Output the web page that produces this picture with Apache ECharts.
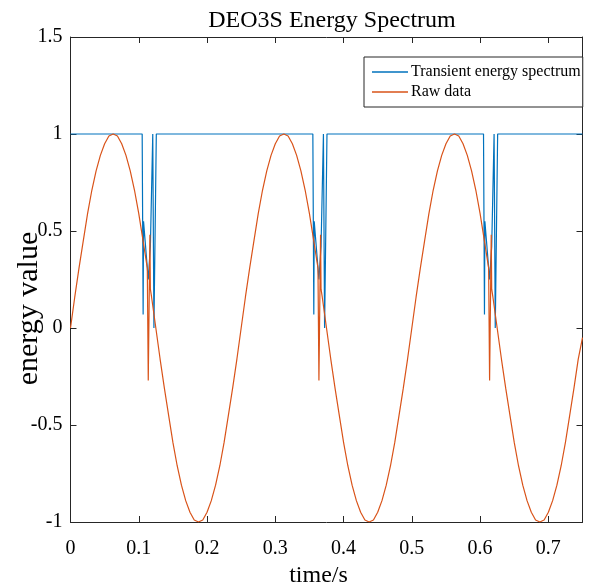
<!DOCTYPE html>
<html>
<head>
<meta charset="utf-8">
<script src="https://cdn.jsdelivr.net/npm/echarts@6/dist/echarts.min.js"></script>
<style>html,body{margin:0;padding:0;background:#fff;}#c{width:594px;height:588px;}</style>
</head>
<body>
<div id="c"></div>
<script>
const titleText = 'DEO3S Energy Spectrum';
const xName = 'time/s';
const yName = 'energy value';
const seriesNames = ['Transient energy spectrum', 'Raw data'];
const xTicks = [0, 0.1, 0.2, 0.3, 0.4, 0.5, 0.6, 0.7];
const yTicks = [-1, -0.5, 0, 0.5, 1, 1.5];

// Transient energy spectrum (blue)
const specTime = [0, 0.1050, 0.1064, 0.1070, 0.1139, 0.1170, 0.1205, 0.1222, 0.1257,
  0.3550, 0.3564, 0.3570, 0.3639, 0.3670, 0.3705, 0.3722, 0.3757,
  0.6050, 0.6064, 0.6070, 0.6139, 0.6170, 0.6205, 0.6222, 0.6257, 0.75];
const specValue = [1, 1, 0.07, 0.55, 0.25, 0.42, 1, 0.00, 1,
  1, 0.07, 0.55, 0.25, 0.42, 1, 0.00, 1,
  1, 0.07, 0.55, 0.25, 0.42, 1, 0.00, 1, 1];

// Raw data (orange)
const rawTime = [
  0, 0.00625, 0.0125, 0.01875, 0.025, 0.03125, 0.0375, 0.04375, 0.05, 0.05625,
  0.0625, 0.06875, 0.075, 0.08125, 0.0875, 0.09375, 0.1, 0.10625, 0.1125,
  0.1139, 0.1163, 0.1170,
  0.11875, 0.125, 0.13125, 0.1375, 0.14375, 0.15, 0.15625, 0.1625, 0.16875,
  0.175, 0.18125, 0.1875, 0.19375, 0.2, 0.20625, 0.2125, 0.21875, 0.225, 0.23125,
  0.2375, 0.24375,
  0.25, 0.25625, 0.2625, 0.26875, 0.275, 0.28125, 0.2875, 0.29375, 0.3, 0.30625,
  0.3125, 0.31875, 0.325, 0.33125, 0.3375, 0.34375, 0.35, 0.35625, 0.3625,
  0.3639, 0.3663, 0.3670,
  0.36875, 0.375, 0.38125, 0.3875, 0.39375, 0.4, 0.40625, 0.4125, 0.41875,
  0.425, 0.43125, 0.4375, 0.44375, 0.45, 0.45625, 0.4625, 0.46875, 0.475, 0.48125,
  0.4875, 0.49375,
  0.5, 0.50625, 0.5125, 0.51875, 0.525, 0.53125, 0.5375, 0.54375, 0.55, 0.55625,
  0.5625, 0.56875, 0.575, 0.58125, 0.5875, 0.59375, 0.6, 0.60625, 0.6125,
  0.6139, 0.6163, 0.6170,
  0.61875, 0.625, 0.63125, 0.6375, 0.64375, 0.65, 0.65625, 0.6625, 0.66875,
  0.675, 0.68125, 0.6875, 0.69375, 0.7, 0.70625, 0.7125, 0.71875, 0.725, 0.73125,
  0.7375, 0.74375, 0.75];
const rawValue = [
  0, 0.16, 0.31, 0.45, 0.59, 0.71, 0.81, 0.89, 0.95, 0.99,
  1, 0.99, 0.95, 0.89, 0.81, 0.71, 0.59, 0.45, 0.31,
  -0.27, 0.48, 0.20,
  0.16, 0, -0.16, -0.31, -0.45, -0.59, -0.71, -0.81, -0.89,
  -0.95, -0.99, -1, -0.99, -0.95, -0.89, -0.81, -0.71, -0.59, -0.45,
  -0.31, -0.16,
  0, 0.16, 0.31, 0.45, 0.59, 0.71, 0.81, 0.89, 0.95, 0.99,
  1, 0.99, 0.95, 0.89, 0.81, 0.71, 0.59, 0.45, 0.31,
  -0.27, 0.48, 0.20,
  0.16, 0, -0.16, -0.31, -0.45, -0.59, -0.71, -0.81, -0.89,
  -0.95, -0.99, -1, -0.99, -0.95, -0.89, -0.81, -0.71, -0.59, -0.45,
  -0.31, -0.16,
  0, 0.16, 0.31, 0.45, 0.59, 0.71, 0.81, 0.89, 0.95, 0.99,
  1, 0.99, 0.95, 0.89, 0.81, 0.71, 0.59, 0.45, 0.31,
  -0.27, 0.48, 0.20,
  0.16, 0, -0.16, -0.31, -0.45, -0.59, -0.71, -0.81, -0.89,
  -0.95, -0.99, -1, -0.99, -0.95, -0.89, -0.81, -0.71, -0.59, -0.45,
  -0.31, -0.16, -0.05];

const FONT = "'Liberation Serif', 'Times New Roman', serif";
const AX = '#262626';

const chart = echarts.init(document.getElementById('c'), null, {renderer: 'canvas'});
const xMin = xTicks[0], xMax = 0.75, xInt = xTicks[1] - xTicks[0];
const yMin = yTicks[0], yMax = yTicks[yTicks.length - 1], yInt = yTicks[1] - yTicks[0];

function xAxisCfg(pos, labels) {
  return {
    type: 'value', position: pos, min: xMin, max: xMax, interval: xInt,
    axisLine: {show: true, onZero: false, lineStyle: {color: AX, width: 1}},
    axisTick: {show: true, inside: true, length: 6, lineStyle: {color: AX}},
    axisLabel: {show: labels, showMaxLabel: false, margin: 17, color: '#000', fontFamily: FONT, fontSize: 20},
    splitLine: {show: false},
    name: labels ? xName : '', nameLocation: 'middle', nameGap: 42, nameMoveOverlap: false,
    nameTextStyle: {color: '#000', fontFamily: FONT, fontSize: 24, padding: [0, 16, 0, 0]}
  };
}
function yAxisCfg(pos, labels) {
  return {
    type: 'value', position: pos, min: yMin, max: yMax, interval: yInt,
    axisLine: {show: true, onZero: false, lineStyle: {color: AX, width: 1}},
    axisTick: {show: true, inside: true, length: 6, lineStyle: {color: AX}},
    axisLabel: {show: labels, margin: 8, color: '#000', fontFamily: FONT, fontSize: 20},
    splitLine: {show: false},
    name: labels ? yName : '', nameLocation: 'middle', nameGap: 26, nameMoveOverlap: false,
    nameTextStyle: {color: '#000', fontFamily: FONT, fontSize: 30, padding: [0, 58, 0, 0]}
  };
}

chart.setOption({
  animation: false,
  backgroundColor: '#fff',
  title: {
    text: titleText, left: 327, top: 4, textAlign: 'center',
    textStyle: {fontFamily: FONT, fontSize: 24, fontWeight: 'normal', color: '#000'}
  },
  legend: {
    orient: 'vertical', left: 364, top: 57,
    data: seriesNames,
    icon: 'rect',
    backgroundColor: '#fff', borderColor: AX, borderWidth: 1,
    padding: [7, 2, 7, 8], itemGap: 4, itemWidth: 36, itemHeight: 1.3,
    textStyle: {fontFamily: FONT, fontSize: 16, color: '#000', lineHeight: 16, padding: [0, 0, 0, -2]}
  },
  grid: {left: 70.5, right: 11.5, top: 37, bottom: 66, containLabel: false, outerBoundsMode: 'none'},
  xAxis: [xAxisCfg('bottom', true), xAxisCfg('top', false)],
  yAxis: [yAxisCfg('left', true), yAxisCfg('right', false)],
  series: [
    {
      name: seriesNames[0], type: 'line', xAxisIndex: 0, yAxisIndex: 0,
      data: specTime.map((t, i) => [t, specValue[i]]),
      showSymbol: false, symbol: 'none', clip: true,
      lineStyle: {color: '#0072BD', width: 1.2}, itemStyle: {color: '#0072BD'}
    },
    {
      name: seriesNames[1], type: 'line', xAxisIndex: 0, yAxisIndex: 0,
      data: rawTime.map((t, i) => [t, rawValue[i]]),
      showSymbol: false, symbol: 'none', clip: true,
      lineStyle: {color: '#D95319', width: 1.2}, itemStyle: {color: '#D95319'}
    }
  ]
});
</script>
</body>
</html>
